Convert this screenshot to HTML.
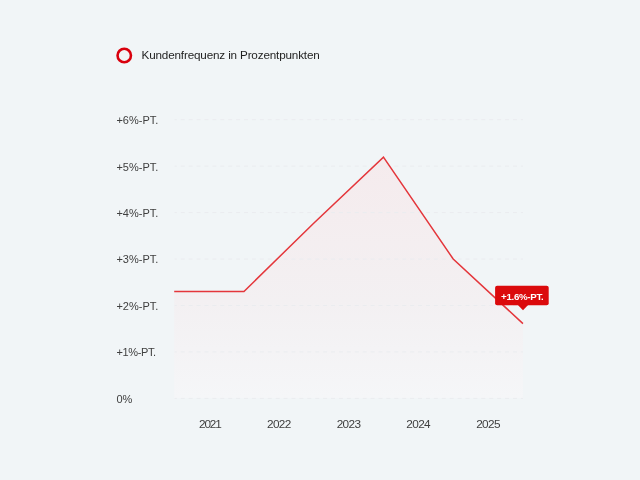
<!DOCTYPE html>
<html lang="de">
<head>
<meta charset="utf-8">
<title>Kundenfrequenz in Prozentpunkten</title>
<style>
  html, body { margin: 0; padding: 0; }
  body { width: 640px; height: 480px; background: #f1f5f7; overflow: hidden; }
  svg { display: block; }
  text { font-family: "Liberation Sans", Arial, sans-serif; }
</style>
</head>
<body>
<svg width="640" height="480" viewBox="0 0 640 480">
  <defs>
    <linearGradient id="fillg" x1="0" y1="157" x2="0" y2="398" gradientUnits="userSpaceOnUse">
      <stop offset="0" stop-color="#f5ebed"/>
      <stop offset="0.6" stop-color="#f3f0f2"/>
      <stop offset="1" stop-color="#f5f6f8"/>
    </linearGradient>
  </defs>

  <!-- legend -->
  <circle cx="124.25" cy="55.5" r="6.7" fill="none" stroke="#d9000d" stroke-width="2.6"/>
  <text x="141.5" y="59.1" font-size="11.7" letter-spacing="-0.16" fill="#1f1f1f">Kundenfrequenz in Prozentpunkten</text>

  <!-- area fill -->
  <polygon fill="url(#fillg)" points="174.2,291.4 243.95,291.5 313.7,223.2 383.45,157.2 453.2,259 522.95,323.6 522.95,398 174.2,398"/>

  <!-- grid -->
  <g stroke="#eaecef" stroke-width="1" stroke-dasharray="3.96 3.95" stroke-dashoffset="1.75">
    <line x1="174.6" y1="119.7" x2="523" y2="119.7"/>
    <line x1="174.6" y1="166.15" x2="523" y2="166.15"/>
    <line x1="174.6" y1="212.6" x2="523" y2="212.6"/>
    <line x1="174.6" y1="259.05" x2="523" y2="259.05"/>
    <line x1="174.6" y1="305.5" x2="523" y2="305.5"/>
    <line x1="174.6" y1="351.95" x2="523" y2="351.95"/>
    <line x1="174.6" y1="398.4" x2="523" y2="398.4"/>
  </g>

  <!-- y labels -->
  <g font-size="11" fill="#404040">
    <text x="116.4" y="124.1">+6%-PT.</text>
    <text x="116.4" y="170.5">+5%-PT.</text>
    <text x="116.4" y="217">+4%-PT.</text>
    <text x="116.4" y="263.4">+3%-PT.</text>
    <text x="116.4" y="309.9">+2%-PT.</text>
    <text x="116.4" y="356.3" letter-spacing="-0.35">+1%-PT.</text>
    <text x="116.4" y="402.6">0%</text>
  </g>

  <!-- x labels -->
  <g font-size="11.8" letter-spacing="-0.65" fill="#404040" text-anchor="middle">
    <text x="209.8" y="428.4" letter-spacing="-1.2">2021</text>
    <text x="278.8" y="428.4">2022</text>
    <text x="348.5" y="428.4">2023</text>
    <text x="418.2" y="428.4">2024</text>
    <text x="488" y="428.4">2025</text>
  </g>

  <!-- line -->
  <polyline fill="none" stroke="#e4363b" stroke-width="1.5" stroke-linejoin="miter" points="174.2,291.4 243.95,291.5 313.7,223.2 383.45,157.2 453.2,259 522.95,323.6"/>

  <!-- tooltip -->
  <rect x="495.1" y="285.75" width="53.6" height="19.5" rx="2" fill="#db0a0c"/>
  <polygon points="517.9,305 528.1,305 523,310.3" fill="#db0a0c"/>
  <text x="522.2" y="299.6" font-size="9.7" letter-spacing="-0.3" font-weight="700" fill="#ffffff" text-anchor="middle">+1.6%-PT.</text>
</svg>
</body>
</html>
